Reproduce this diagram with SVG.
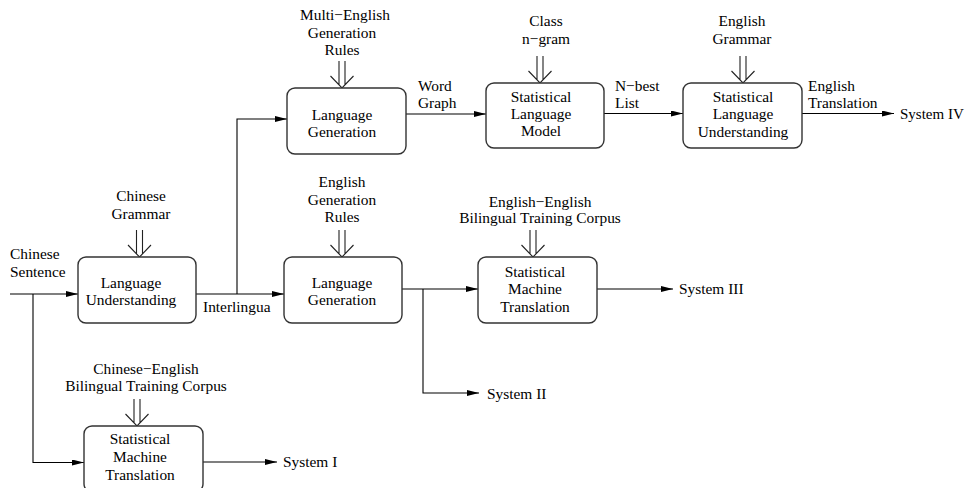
<svg xmlns="http://www.w3.org/2000/svg" xmlns:xlink="http://www.w3.org/1999/xlink" width="965" height="488" viewBox="0 0 965 488">
<style>
text{font-family:"Liberation Serif","Times New Roman",serif;font-size:15.4px;fill:#000}
.c{text-anchor:middle}
.box{fill:#fff;stroke:#333;stroke-width:1.4}
.ln{fill:none;stroke:#000;stroke-width:1.1}
.dbl{fill:none;stroke:#222;stroke-width:1.1}
</style>
<defs>
<marker id="ah" viewBox="0 0 12 6" refX="12" refY="3" markerWidth="12" markerHeight="6" markerUnits="userSpaceOnUse" orient="auto">
<path d="M0,0 L12,3 L0,6 Z" fill="#000"/>
</marker>
<g id="dbl" class="dbl">
<path d="M-3,-27 V-3.5 M3,-27 V-3.5 M-11.5,-12 L0,0 L11.5,-12"/>
</g>
</defs>
<rect width="965" height="488" fill="#fff"/>

<g id="connectors">
<path class="ln" d="M10,294 H78" marker-end="url(#ah)"/>
<path class="ln" d="M33,294 V462.5 H84" marker-end="url(#ah)"/>
<path class="ln" d="M196,294 H284" marker-end="url(#ah)"/>
<path class="ln" d="M237,294 V119 H287" marker-end="url(#ah)"/>
<path class="ln" d="M406,114 H486" marker-end="url(#ah)"/>
<path class="ln" d="M604,113.5 H683" marker-end="url(#ah)"/>
<path class="ln" d="M802,113.5 H894" marker-end="url(#ah)"/>
<path class="ln" d="M402,289 H478" marker-end="url(#ah)"/>
<path class="ln" d="M423,289 V393 H479" marker-end="url(#ah)"/>
<path class="ln" d="M597,289 H673" marker-end="url(#ah)"/>
<path class="ln" d="M203,462 H277" marker-end="url(#ah)"/>
</g>

<g id="chinese-sentence">
<text x="10" y="259">Chinese</text>
<text x="10" y="277">Sentence</text>
</g>
<g id="interlingua-label"><text x="203" y="312">Interlingua</text></g>
<g id="word-graph-label"><text x="418" y="91">Word</text><text x="418" y="107.5">Graph</text></g>
<g id="nbest-label"><text x="615" y="91">N−best</text><text x="615" y="107.5">List</text></g>
<g id="english-translation-label"><text x="808" y="91">English</text><text x="808" y="107.5">Translation</text></g>

<g id="language-understanding">
<text class="c" x="141" y="201">Chinese</text>
<text class="c" x="141" y="218.5">Grammar</text>
<use xlink:href="#dbl" x="139.5" y="257"/>
<rect class="box" x="78" y="257" width="118" height="66" rx="8"/>
<text class="c" x="131" y="287.5">Language</text>
<text class="c" x="131" y="305">Understanding</text>
</g>

<g id="language-generation-mid">
<text class="c" x="342" y="187">English</text>
<text class="c" x="342" y="205">Generation</text>
<text class="c" x="342" y="222">Rules</text>
<use xlink:href="#dbl" x="342" y="257"/>
<rect class="box" x="284" y="257" width="118" height="66" rx="8"/>
<text class="c" x="342" y="287.5">Language</text>
<text class="c" x="342" y="305">Generation</text>
</g>

<g id="smt-english">
<text class="c" x="540" y="207">English−English</text>
<text class="c" x="540" y="223">Bilingual Training Corpus</text>
<use xlink:href="#dbl" x="533" y="257"/>
<rect class="box" x="478" y="257" width="119" height="66" rx="8"/>
<text class="c" x="535" y="276.5">Statistical</text>
<text class="c" x="535" y="293.5">Machine</text>
<text class="c" x="535" y="311.5">Translation</text>
</g>

<g id="language-generation-top">
<text class="c" x="345" y="20">Multi−English</text>
<text class="c" x="342" y="37.5">Generation</text>
<text class="c" x="342" y="55">Rules</text>
<use xlink:href="#dbl" x="342" y="88"/>
<rect class="box" x="287" y="88" width="119" height="66" rx="8"/>
<text class="c" x="342" y="120">Language</text>
<text class="c" x="342" y="137">Generation</text>
</g>

<g id="statistical-language-model">
<text class="c" x="546" y="26">Class</text>
<text class="c" x="546" y="43.5">n−gram</text>
<use xlink:href="#dbl" x="540" y="83"/>
<rect class="box" x="486" y="83" width="118" height="65" rx="8"/>
<text class="c" x="541" y="101.5">Statistical</text>
<text class="c" x="541" y="119">Language</text>
<text class="c" x="541" y="136">Model</text>
</g>

<g id="statistical-language-understanding">
<text class="c" x="742" y="26">English</text>
<text class="c" x="742" y="43.5">Grammar</text>
<use xlink:href="#dbl" x="743" y="83"/>
<rect class="box" x="683" y="83" width="119" height="65" rx="8"/>
<text class="c" x="743" y="101.5">Statistical</text>
<text class="c" x="743" y="119">Language</text>
<text class="c" x="743" y="137">Understanding</text>
</g>

<g id="smt-chinese">
<text class="c" x="146" y="373.5">Chinese−English</text>
<text class="c" x="146" y="391">Bilingual Training Corpus</text>
<use xlink:href="#dbl" x="137" y="426"/>
<rect class="box" x="84" y="426" width="119" height="66" rx="8"/>
<text class="c" x="140" y="444">Statistical</text>
<text class="c" x="140" y="462">Machine</text>
<text class="c" x="140" y="479.5">Translation</text>
</g>

<g id="system-iv"><text x="900" y="119" style="font-size:15px">System IV</text></g>
<g id="system-iii"><text x="679" y="293.5">System III</text></g>
<g id="system-ii"><text x="487" y="399">System II</text></g>
<g id="system-i"><text x="283" y="467">System I</text></g>
</svg>
